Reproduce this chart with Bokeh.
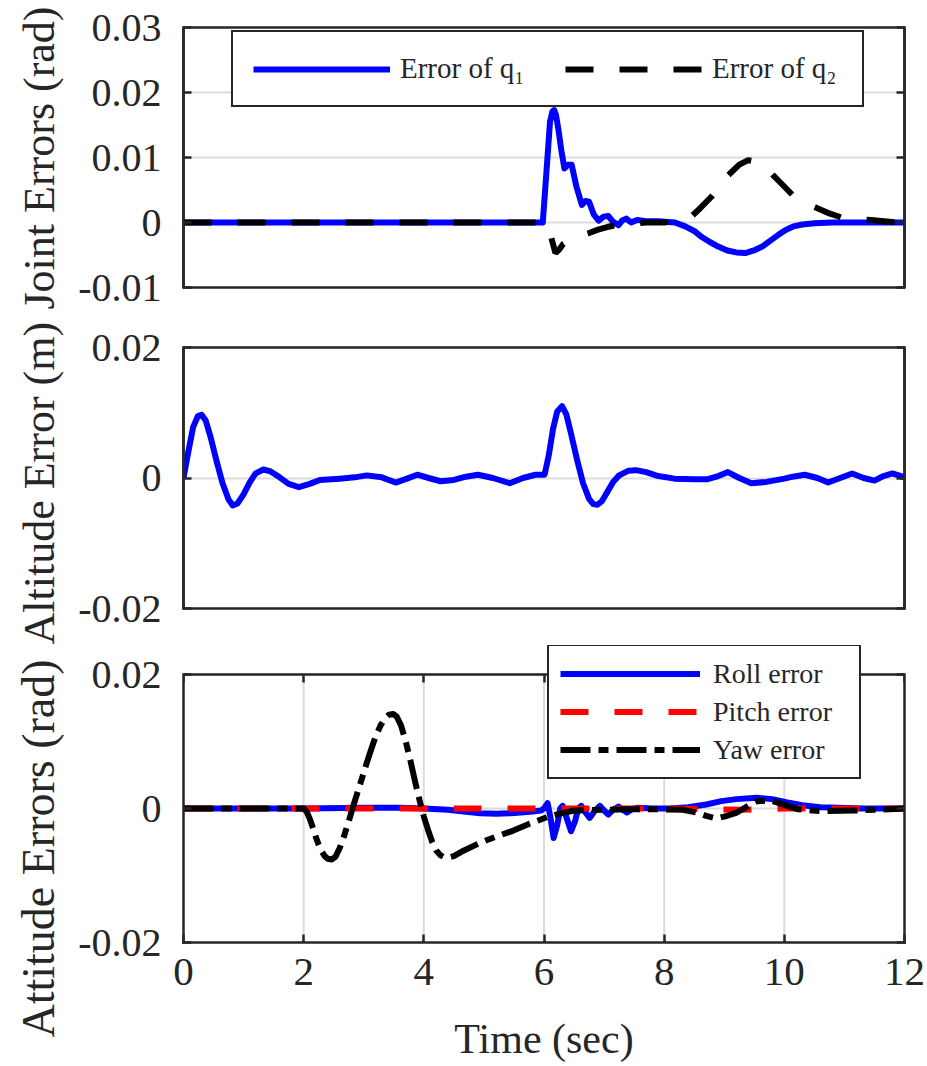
from bokeh.plotting import figure
from bokeh.layouts import column
from bokeh.models import (Range1d, FixedTicker, LinearAxis, Legend, LegendItem,
                          CustomJSTickFormatter, Title)
from bokeh.embed import file_html
from bokeh.resources import INLINE

# ---------------- joint errors (rad) ----------------
t_q1 = [0, 1, 2, 3, 4, 5, 5.5, 5.98, 6.05, 6.10, 6.14, 6.17, 6.20, 6.24, 6.29,
        6.34, 6.40, 6.46, 6.54, 6.63, 6.69, 6.75, 6.83, 6.91, 6.99, 7.07, 7.15,
        7.24, 7.30, 7.37, 7.45, 7.55, 7.7, 7.9, 8.18, 8.35, 8.5, 8.62, 8.76, 8.9,
        9.05, 9.2, 9.35, 9.52, 9.65, 9.75, 9.9, 10.03, 10.15, 10.3, 10.5, 10.8,
        11.2, 11.6, 12]
err_q1 = [0, 0, 0, 0, 0, 0, 0, 0, 0.0090, 0.0155, 0.0171, 0.0173, 0.0165, 0.0143,
          0.0110, 0.0083, 0.0089, 0.0089, 0.0055, 0.0027, 0.0033, 0.0032, 0.0012,
          0.0003, 0.0009, 0.0010, 0.0001, -0.0004, 0.0003, 0.0006, 0.0, 0.0004,
          0.0002, 0.0002, 0.0, -0.0006, -0.0013, -0.0022, -0.0030, -0.0037,
          -0.0043, -0.0046, -0.0047, -0.0042, -0.0036, -0.0029, -0.0019, -0.0011,
          -0.0006, -0.0003, -0.0001, 0, 0, 0, 0]

t_q2 = [0, 1, 2, 3, 4, 5, 5.5, 6.0, 6.1, 6.19, 6.25, 6.32, 6.45, 6.6, 6.73, 6.9,
        7.05, 7.15, 7.4, 7.7, 8.0, 8.3, 8.45, 8.6, 8.79, 8.95, 9.07, 9.25, 9.4,
        9.55, 9.7, 9.82, 9.95, 10.13, 10.3, 10.55, 10.75, 10.94, 11.2, 11.44,
        11.86, 12]
err_q2 = [0, 0, 0, 0, 0, 0, 0, 0, -0.0016, -0.0047, -0.0042, -0.0033, -0.0026,
          -0.0021, -0.0017, -0.0011, -0.0007, -0.0005, -0.0002, 0, 0, 0.0003,
          0.0009, 0.0022, 0.0040, 0.0058, 0.0073, 0.0089, 0.0096, 0.0093, 0.0084,
          0.0072, 0.0060, 0.0043, 0.0032, 0.0022, 0.0014, 0.0008, 0.0005, 0.0004,
          0, 0]

# ---------------- altitude error (m) ----------------
t_alt = [0, 0.08, 0.16, 0.24, 0.30, 0.37, 0.45, 0.55, 0.65, 0.75, 0.82, 0.9, 1.0,
         1.1, 1.2, 1.33, 1.45, 1.6, 1.75, 1.92, 2.1, 2.27, 2.6, 2.85, 3.05, 3.3,
         3.53, 3.72, 3.89, 4.08, 4.28, 4.5, 4.7, 4.9, 5.15, 5.43, 5.65, 5.86, 6.01,
         6.08, 6.15, 6.22, 6.30, 6.37, 6.45, 6.55, 6.65, 6.75, 6.82, 6.89, 6.96,
         7.05, 7.15, 7.25, 7.4, 7.53, 7.7, 7.9, 8.17, 8.5, 8.71, 8.9, 9.06, 9.25,
         9.45, 9.7, 10.0, 10.14, 10.34, 10.55, 10.73, 10.93, 11.13, 11.32, 11.5,
         11.65, 11.8, 12.0]
err_alt = [0, 0.0040, 0.0078, 0.0095, 0.0097, 0.0088, 0.0063, 0.0026, -0.0008,
           -0.0033, -0.0042, -0.0039, -0.0025, -0.0007, 0.0007, 0.0013, 0.0010,
           0.0001, -0.0009, -0.0014, -0.0009, -0.0003, -0.0001, 0.0001, 0.0004,
           0.0001, -0.0007, -0.0001, 0.0005, 0.0, -0.0005, -0.0003, 0.0002, 0.0005,
           0.0, -0.0008, 0.0, 0.0005, 0.0005, 0.0035, 0.0075, 0.0102, 0.0110,
           0.0098, 0.0068, 0.0028, -0.0008, -0.0032, -0.0040, -0.0041, -0.0036,
           -0.0022, -0.0006, 0.0004, 0.0011, 0.0012, 0.0009, 0.0003, -0.0001,
           -0.0002, -0.0002, 0.0003, 0.0009, 0.0, -0.0008, -0.0006, -0.0001,
           0.0002, 0.0005, 0.0, -0.0007, 0.0, 0.0007, 0.0, -0.0004, 0.0003,
           0.0007, 0.0001]

# ---------------- attitude errors (rad) ----------------
t_roll = [0, 1, 2, 3, 3.6, 4.0, 4.4, 4.7, 4.94, 5.2, 5.45, 5.77, 5.95, 6.0, 6.06,
          6.11, 6.16, 6.22, 6.27, 6.31, 6.38, 6.45, 6.52, 6.57, 6.62, 6.69, 6.76,
          6.84, 6.93, 7.0, 7.07, 7.15, 7.24, 7.31, 7.38, 7.46, 7.55, 7.8, 8.1,
          8.4, 8.7, 8.95, 9.2, 9.54, 9.8, 10.05, 10.3, 10.6, 10.9, 11.3, 12]
err_roll = [0, 0, 0, 0.0001, 0.0001, 0, -0.0002, -0.0005, -0.0007, -0.0008,
            -0.0007, -0.0005, -0.0003, 0.0, 0.0008, -0.0015, -0.0044, -0.0025,
            0.0, 0.0004, -0.0015, -0.0034, -0.0018, 0.0, 0.0004, -0.0006, -0.0014,
            -0.0004, 0.0004, -0.0003, -0.0009, -0.0002, 0.0003, -0.0002, -0.0006,
            -0.0001, 0.0001, 0.0, 0.0, 0.0002, 0.0006, 0.0011, 0.0014, 0.0016,
            0.0014, 0.0009, 0.0005, 0.0002, 0.0001, 0, 0]

t_pitch = [0, 2, 4, 6, 8, 8.8, 9.3, 9.6, 10, 11, 12]
err_pitch = [0, 0, 0, 0, 0, -0.0001, -0.0002, -0.0001, 0, 0, 0]

t_yaw = [0, 1, 2.0, 2.05, 2.1, 2.15, 2.2, 2.25, 2.3, 2.35, 2.4, 2.47, 2.53, 2.6,
         2.67, 2.75, 2.83, 2.9, 2.97, 3.05, 3.13, 3.2, 3.28, 3.35, 3.42, 3.49,
         3.55, 3.62, 3.7, 3.78, 3.86, 3.93, 4.0, 4.07, 4.14, 4.21, 4.28, 4.35,
         4.42, 4.5, 4.58, 4.66, 4.94, 5.2, 5.49, 5.75, 6.05, 6.3, 6.51, 6.96, 7.4,
         7.78, 8.31, 8.54, 8.7, 8.87, 9.0, 9.21, 9.4, 9.55, 9.77, 10.05, 10.22,
         10.62, 11.18, 11.74, 12]
err_yaw = [0, 0, 0, -0.0005, -0.0015, -0.0028, -0.0042, -0.0054, -0.0064,
           -0.0071, -0.0075, -0.0076, -0.0072, -0.0059, -0.0042, -0.0019, 0.0005,
           0.0025, 0.0045, 0.0068, 0.0090, 0.0108, 0.0124, 0.0134, 0.0140, 0.0141,
           0.0137, 0.0124, 0.0100, 0.0070, 0.0038, 0.0012, -0.0012, -0.0032,
           -0.0050, -0.0063, -0.0070, -0.0073, -0.0073, -0.0071, -0.0067, -0.0063,
           -0.0051, -0.0042, -0.0033, -0.0023, -0.0013, -0.0007, -0.0003, -0.0002,
           -0.0001, -0.0001, -0.0002, -0.0006, -0.0011, -0.0015, -0.0012, -0.0006,
           0.0004, 0.0011, 0.0012, 0.0004, -0.0001, -0.0004, -0.0003, -0.0001, 0]

x_ticks = [0, 2, 4, 6, 8, 10, 12]
x_grid = [2, 4, 6, 8, 10]
joint_ticks = [-0.01, 0, 0.01, 0.02, 0.03]
alt_ticks = [-0.02, 0, 0.02]
att_ticks = [-0.02, 0, 0.02]

FONT = "Liberation Serif"
INK = "#262626"
GRID = "#dcdcdc"
BLUE = "#0000ff"
RED = "#ff0000"
LW = 6

num_fmt = CustomJSTickFormatter(code="return tick == 0 ? '0' : tick.toFixed(2);")
int_fmt = CustomJSTickFormatter(code="return tick.toFixed(0);")


def blank_fmt():
    return CustomJSTickFormatter(code="return '';")


def style_axis(ax):
    ax.axis_line_color = INK
    ax.axis_line_width = 2.5
    ax.axis_line_cap = "square"
    ax.major_tick_line_color = INK
    ax.major_tick_line_width = 2.5
    ax.major_tick_in = 8
    ax.major_tick_out = 0
    ax.minor_tick_line_color = None
    ax.major_label_text_font = FONT
    ax.major_label_text_color = INK
    ax.axis_label_text_font = FONT
    ax.axis_label_text_font_style = "normal"
    ax.axis_label_text_color = INK


def side_title(p, text, size, offset):
    # y label drawn as a left-side title so that it can be shifted along the axis
    t = Title(text=text, align="left", offset=offset, vertical_align="middle",
              text_font=FONT, text_font_size=size, text_font_style="normal",
              text_color=INK, standoff=22)
    p.add_layout(t, "left")


def panel(height, top, bottom, y_lo, y_hi, y_ticks, boxed=True):
    p = figure(width=927, height=height,
               x_range=Range1d(0, 12), y_range=Range1d(y_lo, y_hi),
               output_backend="svg", toolbar_location=None,
               min_border_left=183, min_border_right=23,
               min_border_top=top, min_border_bottom=bottom)
    p.outline_line_color = INK if boxed else None
    p.outline_line_width = 2.5
    p.outline_line_alpha = 1.0
    p.background_fill_color = "white"
    p.border_fill_color = "white"

    ya = p.yaxis[0]
    ya.ticker = FixedTicker(ticks=y_ticks)
    ya.formatter = num_fmt
    style_axis(ya)
    ya.major_label_text_font_size = "40px"
    ya.major_label_standoff = 22

    yr = LinearAxis(ticker=FixedTicker(ticks=y_ticks), formatter=blank_fmt())
    style_axis(yr)
    p.add_layout(yr, "right")

    if not boxed:
        ya.bounds = (y_ticks[0], y_ticks[-1])
        yr.bounds = (y_ticks[0], y_ticks[-1])

    p.ygrid.ticker = FixedTicker(ticks=y_ticks)
    p.ygrid.grid_line_color = GRID
    p.ygrid.grid_line_width = 2
    p.xgrid.visible = False
    return p


def legend_style(leg, font_size):
    leg.label_text_font = FONT
    leg.label_text_font_size = font_size
    leg.label_text_color = INK
    leg.border_line_color = INK
    leg.border_line_width = 2
    leg.border_line_alpha = 1.0
    leg.background_fill_color = "white"
    leg.background_fill_alpha = 1.0
    leg.margin = 0


# --- joint errors ---
p1 = panel(317, 27, 30, -0.01, 0.03, joint_ticks)
p1.xaxis.visible = False
side_title(p1, "Joint Errors (rad)", "44px", -22)
r_q1 = p1.line(t_q1, err_q1, line_color=BLUE, line_width=LW, line_join="round")
r_q2 = p1.line(t_q2, err_q2, line_color="black", line_width=LW, line_dash="28 26")
leg1 = Legend(items=[LegendItem(label="Error of q\u2081", renderers=[r_q1]),
                     LegendItem(label="Error of q\u2082", renderers=[r_q2])],
              orientation="horizontal", location=(48, 180),
              glyph_width=137, glyph_height=30, label_standoff=10,
              label_width=130, spacing=35, padding=20)
legend_style(leg1, "29px")
p1.add_layout(leg1)

# --- altitude error ---
p2 = panel(328, 30, 37, -0.02, 0.02, alt_ticks)
p2.xaxis.visible = False
side_title(p2, "Altitude Error (m)", "44px", -36)
p2.line(t_alt, err_alt, line_color=BLUE, line_width=LW, line_join="round")

# --- attitude errors ---
# the frame reaches a little above +0.02 so the legend can overhang the box
att_px_per_unit = 268 / 0.04
att_top = 0.02 + 29 / att_px_per_unit
p3 = panel(421, 0, 124, -0.02, att_top, att_ticks, boxed=False)
side_title(p3, "Attitude Errors (rad)", "46px", -95)

xa = p3.xaxis[0]
xa.ticker = FixedTicker(ticks=x_ticks)
xa.formatter = int_fmt
style_axis(xa)
xa.major_label_text_font_size = "41px"
xa.major_label_standoff = 16
xa.axis_label = "Time (sec)"
xa.axis_label_text_font_size = "42px"
xa.axis_label_standoff = 28

xt = LinearAxis(ticker=FixedTicker(ticks=x_ticks), formatter=blank_fmt(),
                fixed_location=0.02)
style_axis(xt)
p3.add_layout(xt, "above")

p3.segment(x0=x_grid, y0=[att_ticks[0]] * len(x_grid),
           x1=x_grid, y1=[att_ticks[-1]] * len(x_grid),
           line_color=GRID, line_width=2)

r_roll = p3.line(t_roll, err_roll, line_color=BLUE, line_width=LW, line_join="round")
r_pitch = p3.line(t_pitch, err_pitch, line_color=RED, line_width=LW, line_dash="28 26")
r_yaw = p3.line(t_yaw, err_yaw, line_color="black", line_width=LW,
                line_dash="30 8 10 8", line_join="round")
leg3 = Legend(items=[LegendItem(label="Roll error", renderers=[r_roll]),
                     LegendItem(label="Pitch error", renderers=[r_pitch]),
                     LegendItem(label="Yaw error", renderers=[r_yaw])],
              location=(364, 163),
              glyph_width=140, glyph_height=33, label_height=33, label_width=135,
              label_standoff=13, spacing=5, padding=11)
legend_style(leg3, "28px")
p3.add_layout(leg3)

layout = column(p1, p2, p3, spacing=0)

open("out.html", "w").write(file_html(layout, INLINE))
